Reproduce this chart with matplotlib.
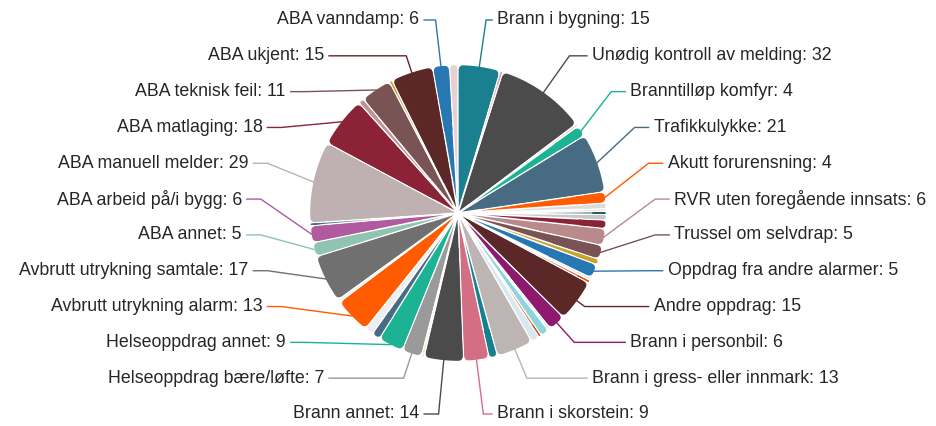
import numpy as np
import matplotlib
matplotlib.use('Agg')
import matplotlib.pyplot as plt
from matplotlib.path import Path
from matplotlib.patches import PathPatch

# Slices clockwise from 12 o'clock. '' = small category whose label is hidden
names = [
    'Brann i bygning', '', 'Unødig kontroll av melding', '', 'Branntilløp komfyr',
    'Trafikkulykke', 'Akutt forurensning', '', '', '', '', '',
    'RVR uten foregående innsats', 'Trussel om selvdrap', '', 'Oppdrag fra andre alarmer',
    '', '', 'Andre oppdrag', 'Brann i personbil', '', '', '', '',
    'Brann i gress- eller innmark', '', 'Brann i skorstein', 'Brann annet', '',
    'Helseoppdrag bære/løfte', 'Helseoppdrag annet', '', '', 'Avbrutt utrykning alarm', '',
    'Avbrutt utrykning samtale', 'ABA annet', 'ABA arbeid på/i bygg', '', 'ABA manuell melder',
    'ABA matlaging', '', 'ABA teknisk feil', '', 'ABA ukjent', 'ABA vanndamp', '',
]
counts = [15, 1, 32, 1, 4, 21, 4, 2, 1, 1, 2, 3, 6, 5, 2, 5, 1, 1, 15, 6, 1, 3, 1, 3,
          13, 3, 9, 14, 1, 7, 9, 3, 3, 13, 1, 17, 5, 6, 1, 29, 18, 2, 11, 1, 15, 6, 3]
colors = [
    '#1a7f8e', '#d9aab4', '#4b4b4b', '#efe4d2', '#1bb394',
    '#466b82', '#ff5b00', '#dcdcdc', '#eeebe6', '#1f5f5f', '#c8c8c8', '#8c2236',
    '#b88a8c', '#7a5454', '#c9a227', '#2777b2',
    '#e8e8e8', '#d9531e', '#5c2727', '#8e1a6f', '#e9f2f4', '#8fd3dc', '#c8612a', '#d8e8ee',
    '#bdb4b4', '#16808f', '#d46e84', '#4b4b4b', '#f3eed3',
    '#9a9a9a', '#1bb394', '#466b82', '#eeeeee', '#ff5b00', '#f2f2f2',
    '#707070', '#8ec4b0', '#b05aa0', '#466b82', '#bfb0b2',
    '#8c2236', '#c09496', '#7a5454', '#c9a227', '#5c2727', '#2777b2', '#e8cfd2',
]

W, H = 937, 426
CX, CY = 458, 213      # pie centre in pixels (from top-left)
PX = 147.8             # pixels per data unit (= pie radius)
PT = PX * 72 / 100     # points per data unit

fig = plt.figure(figsize=(W / 100, H / 100), dpi=100)
ax = fig.add_axes([0, 0, 1, 1])

wedges, _ = ax.pie(counts, colors=colors, startangle=90, counterclock=False, radius=1)

GAP = 1.6 / PX         # white border between slices
RND = 4.0 / PX         # outer corner rounding radius


def inset_poly(t1, t2, off, rho):
    # wedge whose straight sides are moved inwards by `off`, cut at radius rho
    a = (t2 - t1) / 2
    phi = (t1 + t2) / 2
    apex = np.array([np.cos(phi), np.sin(phi)]) * off / np.sin(a)
    if np.hypot(*apex) >= rho * 0.999:
        return None
    ends = []
    for t in (t1, t2):
        e = np.array([np.cos(t), np.sin(t)])
        b = apex @ e
        u = -b + np.sqrt(b * b - apex @ apex + rho * rho)
        ends.append(apex + u * e)
    b1 = np.arctan2(ends[0][1], ends[0][0])
    b2 = np.arctan2(ends[1][1], ends[1][0])
    if b2 < b1:
        b2 += 2 * np.pi
    arc = np.linspace(b1, b2, 40)
    pts = [apex] + [np.array([rho * np.cos(q), rho * np.sin(q)]) for q in arc] + [apex]
    return Path(np.array(pts))


mids = []
for w, c in zip(wedges, colors):
    t1, t2 = np.radians(w.theta1), np.radians(w.theta2)
    w.set_visible(False)
    mids.append((t1 + t2) / 2)
    a = (t2 - t1) / 2
    lim = (np.sin(a) - GAP / 2) / (1 + np.sin(a))
    if lim <= 0:
        continue
    d = min(RND, 0.8 * lim)
    body = inset_poly(t1, t2, GAP / 2, 1 - d)
    if body is not None:
        ax.add_patch(PathPatch(body, facecolor=c, edgecolor='none'))
    rim = inset_poly(t1, t2, GAP / 2 + d, 1 - d)
    if rim is not None:
        ax.add_patch(PathPatch(rim, facecolor=c, edgecolor=c,
                               lw=2 * d * PT, joinstyle='round'))

# label layout: shown labels spread evenly down each side, x from a label circle
R_LAB = 198 / PX
Y_TOP = 197 / PX
Y_SHIFT = -4 / PX
SEG = 14 / PX
TXT_GAP = 5 / PX
MIN_R = 1 + 5 / PX
MAX_R = R_LAB + 10 / PX

shown = [i for i, n in enumerate(names) if n]
cw = {i: (90 - np.degrees(mids[i])) % 360 for i in shown}
right = sorted([i for i in shown if cw[i] < 180], key=lambda i: cw[i])
left = sorted([i for i in shown if cw[i] >= 180], key=lambda i: -cw[i])

for side, items in ((1, right), (-1, left)):
    step = 2 * Y_TOP / (len(items) - 1)
    for k, i in enumerate(items):
        m = mids[i]
        y0 = Y_TOP - k * step
        xc = np.sqrt(max(R_LAB ** 2 - y0 ** 2, 0))
        y = y0 + Y_SHIFT
        # bend point: on the slice's own ray if that reaches the label row, else on the circle
        t = y / np.sin(m) if abs(np.sin(m)) > 1e-6 else -1
        if MIN_R <= t <= MAX_R:
            x1 = t * np.cos(m)
        else:
            x1 = side * xc
        x2 = side * max(xc + SEG, abs(x1) + 6 / PX)
        p0 = (np.cos(m), np.sin(m))
        ax.plot([p0[0], x1, x2], [p0[1], y, y], color=colors[i], lw=1.0,
                solid_joinstyle='miter')
        ax.text(x2 + side * TXT_GAP, y, f'{names[i]}: {counts[i]}',
                ha='left' if side > 0 else 'right', va='center',
                fontsize=12.8, color='#262626', family='Liberation Sans')

ax.set_xlim(-CX / PX, (W - CX) / PX)
ax.set_ylim(-(H - CY) / PX, CY / PX)
ax.set_aspect('auto')
ax.axis('off')

fig.savefig('out.png', dpi=100, facecolor='white')
